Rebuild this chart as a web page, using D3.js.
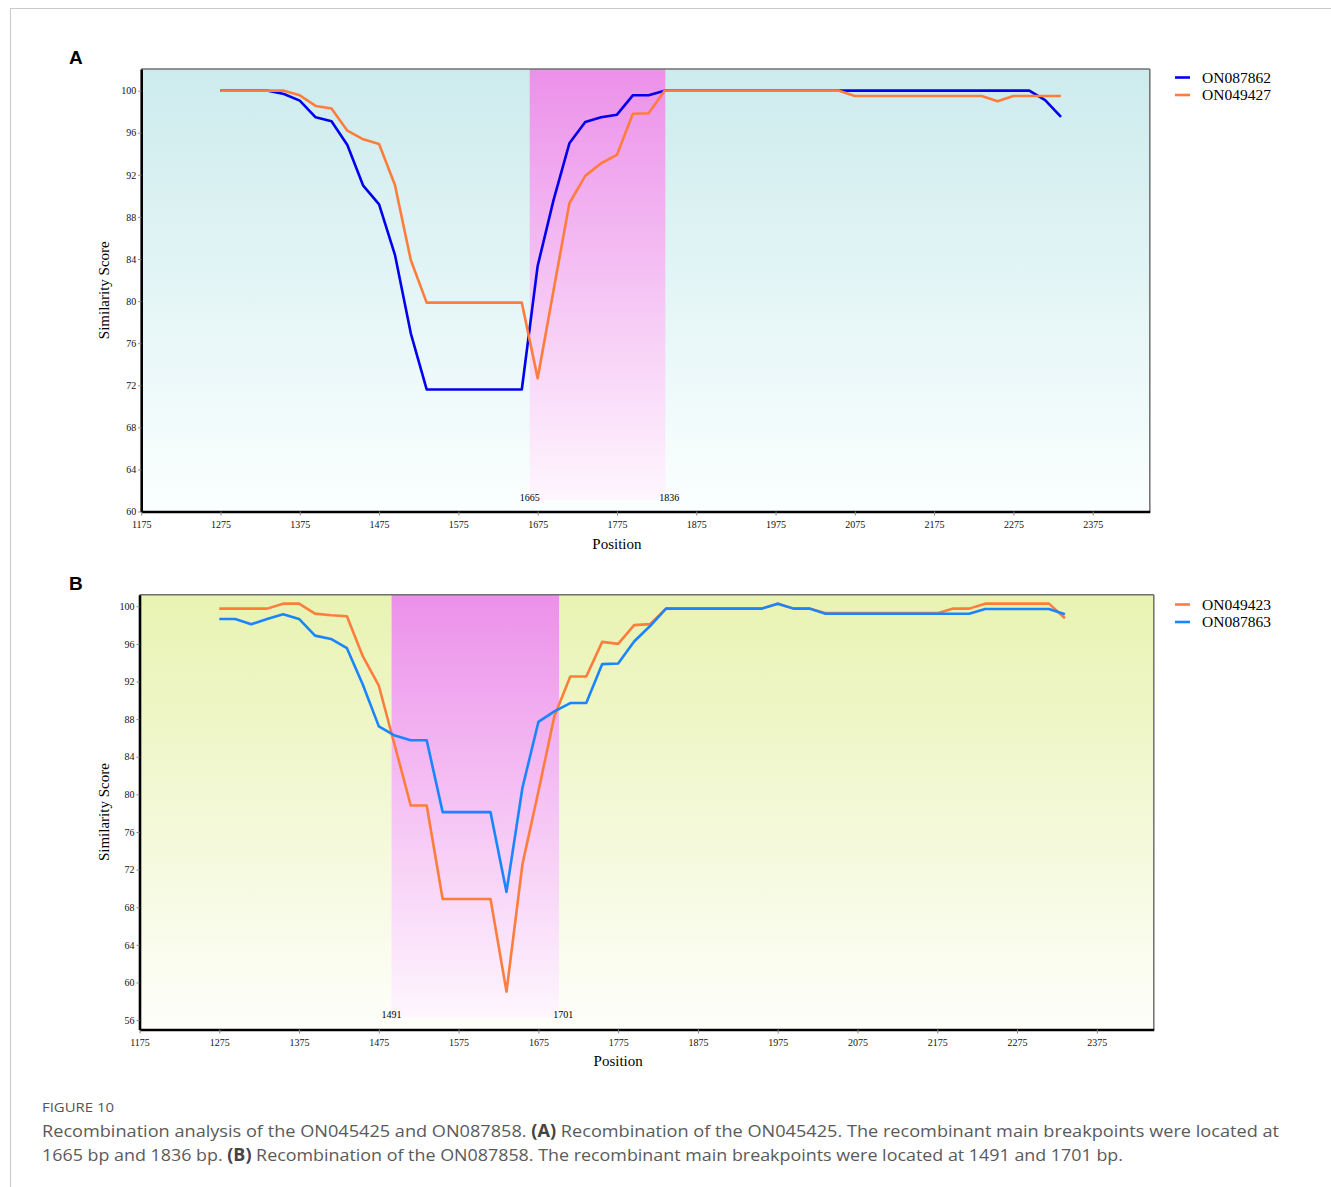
<!DOCTYPE html>
<html>
<head>
<meta charset="utf-8">
<script src="https://cdnjs.cloudflare.com/ajax/libs/d3/7.8.5/d3.min.js"></script>
<style>
  body { margin: 0; background: #fff; }
  svg { display: block; }
</style>
</head>
<body>
<svg id="fig" width="1331" height="1187"></svg>
<script>
// Window positions (bp), shared by both panels
const positions = [1275, 1295, 1315, 1335, 1355, 1375, 1395, 1415, 1435, 1455,
  1475, 1495, 1515, 1535, 1555, 1575, 1595, 1615, 1635, 1655,
  1675, 1695, 1715, 1735, 1755, 1775, 1795, 1815, 1835, 1855,
  1875, 1895, 1915, 1935, 1955, 1975, 1995, 2015, 2035, 2055,
  2075, 2095, 2115, 2135, 2155, 2175, 2195, 2215, 2235, 2255,
  2275, 2295, 2315, 2335];

const xTicks = [1175, 1275, 1375, 1475, 1575, 1675, 1775, 1875, 1975, 2075, 2175, 2275, 2375];

// Panel A
const namesA = ["ON087862", "ON049427"];
const on087862 = [100, 100, 100, 100, 99.69, 99.05, 97.47, 97.1, 94.84, 90.97,
  89.2, 84.4, 76.94, 71.6, 71.6, 71.6, 71.6, 71.6, 71.6, 71.6,
  83.34, 89.6, 95.0, 97.03, 97.47, 97.72, 99.56, 99.56, 100, 100,
  100, 100, 100, 100, 100, 100, 100, 100, 100, 100,
  100, 100, 100, 100, 100, 100, 100, 100, 100, 100,
  100, 100, 99.1, 97.5];
const on049427 = [100, 100, 100, 100, 100, 99.56, 98.55, 98.3, 96.2, 95.38,
  94.93, 91.04, 83.9, 79.85, 79.85, 79.85, 79.85, 79.85, 79.85, 79.85,
  72.66, 81.0, 89.3, 91.9, 93.1, 93.9, 97.8, 97.85, 100, 100,
  100, 100, 100, 100, 100, 100, 100, 100, 100, 100,
  99.5, 99.5, 99.5, 99.5, 99.5, 99.5, 99.5, 99.5, 99.5, 99.0,
  99.5, 99.5, 99.5, 99.5];
const breakA = [1665, 1836];
const yTicksA = [60, 64, 68, 72, 76, 80, 84, 88, 92, 96, 100];

// Panel B
const namesB = ["ON049423", "ON087863"];
const on049423 = [99.75, 99.75, 99.75, 99.75, 100.28, 100.28, 99.22, 99.04, 98.94, 94.66,
  91.55, 85.2, 78.82, 78.82, 68.87, 68.87, 68.87, 68.87, 59.03, 72.56,
  80.3, 88.3, 92.54, 92.54, 96.21, 96.0, 98.0, 98.1, 99.75, 99.75,
  99.75, 99.75, 99.75, 99.75, 99.75, 100.28, 99.75, 99.75, 99.27, 99.27,
  99.27, 99.27, 99.27, 99.27, 99.27, 99.27, 99.75, 99.75, 100.28, 100.28,
  100.28, 100.28, 100.28, 98.73];
const on087863 = [98.65, 98.65, 98.09, 98.65, 99.15, 98.65, 96.88, 96.53, 95.54, 91.65,
  87.23, 86.25, 85.75, 85.75, 78.11, 78.11, 78.11, 78.11, 69.63, 80.7,
  87.7, 88.82, 89.71, 89.71, 93.85, 93.92, 96.25, 97.9, 99.75, 99.75,
  99.75, 99.75, 99.75, 99.75, 99.75, 100.28, 99.75, 99.75, 99.2, 99.2,
  99.2, 99.2, 99.2, 99.2, 99.2, 99.2, 99.2, 99.2, 99.71, 99.71,
  99.71, 99.71, 99.71, 99.15];
const breakB = [1491, 1701];
const yTicksB = [56, 60, 64, 68, 72, 76, 80, 84, 88, 92, 96, 100];

const svg = d3.select("#fig");
const defs = svg.append("defs");

function vGradient(id, top, bottom) {
  const g = defs.append("linearGradient").attr("id", id)
    .attr("x1", 0).attr("y1", 0).attr("x2", 0).attr("y2", 1);
  g.append("stop").attr("offset", "0%").attr("stop-color", top);
  g.append("stop").attr("offset", "100%").attr("stop-color", bottom);
}
vGradient("bgA", "#cdebed", "#fbffff");
vGradient("bgB", "#e8f3b2", "#fefefa");
vGradient("pink", "#ec90ea", "#fef6fe");

// figure frame
svg.append("line").attr("x1", 10).attr("x2", 1331).attr("y1", 8.5).attr("y2", 8.5)
  .attr("stroke", "#c9c9c9");
svg.append("line").attr("x1", 10.5).attr("x2", 10.5).attr("y1", 8).attr("y2", 1187)
  .attr("stroke", "#c9c9c9");

function drawPanel(p) {
  const g = svg.append("g").attr("transform", `translate(${p.left},${p.top})`);
  const x = d3.scaleLinear().domain(p.xDomain).range([0, p.width]);
  const y = d3.scaleLinear().domain(p.yDomain).range([p.height, 0]);

  g.append("rect").attr("width", p.width).attr("height", p.height)
    .attr("fill", `url(#${p.bg})`);

  // recombination region
  g.append("rect")
    .attr("x", x(p.breaks[0]))
    .attr("width", x(p.breaks[1]) - x(p.breaks[0]))
    .attr("y", 0)
    .attr("height", p.height - 12)
    .attr("fill", "url(#pink)");

  g.selectAll(".brk").data(p.breaks).enter().append("text")
    .attr("class", "brk")
    .attr("x", (d, i) => x(d) + (i === 1 ? 4 : 0))
    .attr("y", p.height - 11)
    .attr("text-anchor", "middle")
    .style("font", "10px 'Liberation Serif'")
    .text(d => d);

  // lines
  const line = d3.line().x((d, i) => x(positions[i])).y(d => y(d));
  p.series.forEach(s => {
    g.append("path").datum(s.values)
      .attr("d", line)
      .attr("fill", "none")
      .attr("stroke", s.color)
      .attr("stroke-width", 2.6)
      .attr("stroke-linejoin", "round");
  });

  // frame: thin top/right, thick left/bottom
  g.append("line").attr("x1", 0).attr("x2", p.width).attr("y1", 0).attr("y2", 0)
    .attr("stroke", "#6f6f6f").attr("stroke-width", 1.5);
  g.append("line").attr("x1", p.width).attr("x2", p.width).attr("y1", 0).attr("y2", p.height)
    .attr("stroke", "#6f6f6f").attr("stroke-width", 1.5);

  const xAxis = g.append("g").attr("transform", `translate(0,${p.height})`)
    .call(d3.axisBottom(x).tickValues(xTicks).tickFormat(d3.format("d"))
      .tickSize(4).tickPadding(5).tickSizeOuter(0));
  const yAxis = g.append("g")
    .call(d3.axisLeft(y).tickValues(p.yTicks).tickFormat(d3.format("d"))
      .tickSize(3).tickPadding(2).tickSizeOuter(0));
  [xAxis, yAxis].forEach(a => {
    a.select(".domain").attr("stroke", "#000").attr("stroke-width", 2.6);
    a.selectAll(".tick line").attr("stroke", "#888");
    a.selectAll(".tick text").style("font", "10px 'Liberation Serif'").attr("fill", "#111");
  });

  // axis titles
  g.append("text")
    .attr("x", x(1775)).attr("y", p.height + 37)
    .attr("text-anchor", "middle")
    .style("font", "15px 'Liberation Serif'")
    .text("Position");
  g.append("text")
    .attr("transform", `translate(${-p.left + 109},${p.height / 2}) rotate(-90)`)
    .attr("text-anchor", "middle")
    .style("font", "15px 'Liberation Serif'")
    .text("Similarity Score");

  // panel letter
  svg.append("text").attr("x", 69).attr("y", p.top - 5)
    .style("font", "bold 19px 'Liberation Sans'")
    .text(p.letter);

  // legend
  const lg = svg.append("g").attr("transform", `translate(1175,${p.legendTop})`);
  p.series.forEach((s, i) => {
    lg.append("line").attr("x1", 0).attr("x2", 15)
      .attr("y1", i * 17.5).attr("y2", i * 17.5)
      .attr("stroke", s.color).attr("stroke-width", 2.6);
    lg.append("text").attr("x", 27).attr("y", i * 17.5 + 5)
      .style("font", "15.5px 'Liberation Serif'")
      .text(s.name);
  });
}

drawPanel({
  letter: "A", left: 141.2, top: 69, width: 1008.6, height: 442.5,
  xDomain: [1175, 2447], yDomain: [60, 102.06], yTicks: yTicksA,
  bg: "bgA", breaks: breakA, legendTop: 77.5,
  series: [
    { name: namesA[0], values: on087862, color: "#0000ee" },
    { name: namesA[1], values: on049427, color: "#fd7d3d" }
  ]
});

drawPanel({
  letter: "B", left: 139.5, top: 594.7, width: 1014.3, height: 434.8,
  xDomain: [1175, 2446.4], yDomain: [55, 101.23], yTicks: yTicksB,
  bg: "bgB", breaks: breakB, legendTop: 604.5,
  series: [
    { name: namesB[0], values: on049423, color: "#fd7d3d" },
    { name: namesB[1], values: on087863, color: "#1a85ff" }
  ]
});

// caption
const cap = svg.append("g").style("font-family", "'Open Sans', 'Noto Sans', sans-serif");
cap.append("text").attr("x", 42).attr("y", 1112)
  .attr("textLength", 72).attr("lengthAdjust", "spacingAndGlyphs")
  .style("font-size", "13px").attr("fill", "#555")
  .text("FIGURE 10");

const l1 = cap.append("text").attr("x", 42).attr("y", 1137)
  .attr("textLength", 1237).attr("lengthAdjust", "spacingAndGlyphs")
  .style("font-size", "17px").attr("fill", "#5a5a5a");
l1.append("tspan").text("Recombination analysis of the ON045425 and ON087858. ");
l1.append("tspan").attr("font-weight", "bold").attr("fill", "#444").text("(A)");
l1.append("tspan").text(" Recombination of the ON045425. The recombinant main breakpoints were located at");

const l2 = cap.append("text").attr("x", 42).attr("y", 1161)
  .attr("textLength", 1081).attr("lengthAdjust", "spacingAndGlyphs")
  .style("font-size", "17px").attr("fill", "#5a5a5a");
l2.append("tspan").text("1665 bp and 1836 bp. ");
l2.append("tspan").attr("font-weight", "bold").attr("fill", "#444").text("(B)");
l2.append("tspan").text(" Recombination of the ON087858. The recombinant main breakpoints were located at 1491 and 1701 bp.");
</script>
</body>
</html>
